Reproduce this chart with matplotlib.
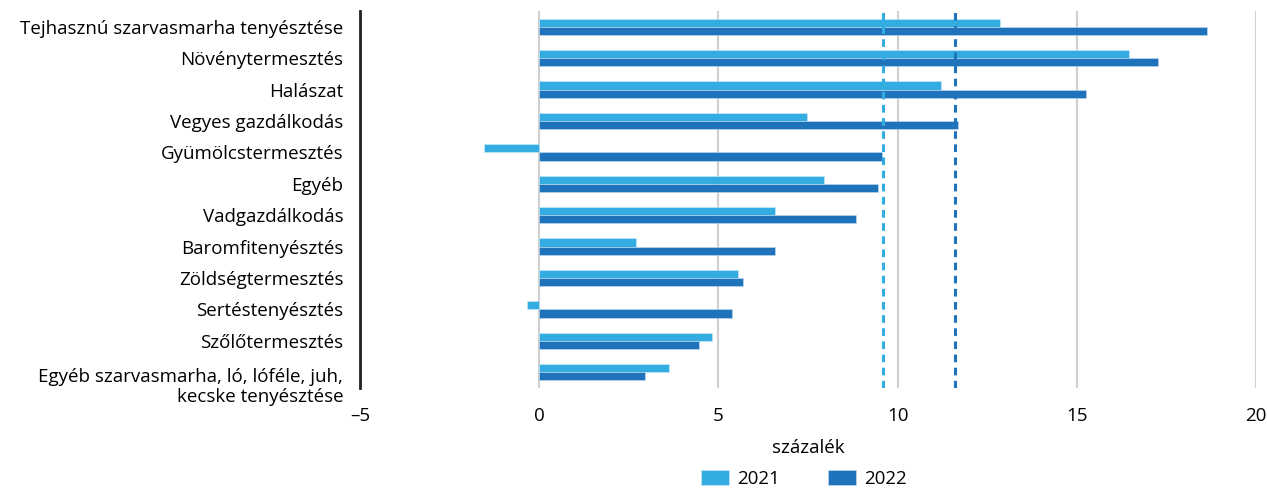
import matplotlib
matplotlib.use("Agg")
import matplotlib.pyplot as plt
import matplotlib.transforms as mtransforms
import numpy as np

plt.rcParams['font.family'] = ['Open Sans', 'DejaVu Sans']

categories = [
    "Tejhasznú szarvasmarha tenyésztése",
    "Növénytermesztés",
    "Halászat",
    "Vegyes gazdálkodás",
    "Gyümölcstermesztés",
    "Egyéb",
    "Vadgazdálkodás",
    "Baromfitenyésztés",
    "Zöldségtermesztés",
    "Sertéstenyésztés",
    "Szőlőtermesztés",
    "Egyéb szarvasmarha, ló, lóféle, juh,\nkecske tenyésztése",
]
values_2021 = [12.86, 16.45, 11.2, 7.48, -1.55, 7.95, 6.58, 2.69, 5.55, -0.33, 4.81, 3.63]
values_2022 = [18.62, 17.27, 15.25, 11.68, 9.56, 9.44, 8.83, 6.58, 5.68, 5.38, 4.46, 2.95]
avg_2021 = 9.59
avg_2022 = 11.61
series_labels = ["2021", "2022"]
xticks = [-5, 0, 5, 10, 15, 20]
xtick_labels = ["–5", "0", "5", "10", "15", "20"]

c21 = "#33ACE1"
c22 = "#1F73BA"
fs = 13.5

fig = plt.figure(figsize=(12.67, 4.93), dpi=100)
ax = fig.add_axes([360/1267, 1 - 388/493, (1256-360)/1267, (388-11)/493])

y = np.arange(len(categories))
h = 0.26
ax.barh(y - h/2, values_2021, height=h, color=c21, edgecolor="#D5ECF8", linewidth=0.4, label=series_labels[0], zorder=3)
ax.barh(y + h/2, values_2022, height=h, color=c22, edgecolor="#C7DDF0", linewidth=0.4, label=series_labels[1], zorder=3)

ax.axvline(avg_2021, color=c21, linestyle=(0, (2.5, 1.8)), linewidth=2.2, zorder=4)
ax.axvline(avg_2022, color=c22, linestyle=(0, (2.5, 1.8)), linewidth=2.2, zorder=4)

ax.set_xlim(-5, 20)
ax.set_ylim(len(categories) - 0.5, -0.5)
ax.set_xticks(xticks)
ax.set_xticklabels(xtick_labels, fontsize=fs)
ax.set_yticks(y)
ax.set_yticklabels(categories, fontsize=fs)
ax.tick_params(axis='both', length=0)
ax.tick_params(axis='y', pad=12)
ax.tick_params(axis='x', pad=14)

for xv in xticks[1:]:
    ax.axvline(xv, color="#D0D0D0", linewidth=1.5, zorder=1)

for s in ["top", "right", "bottom"]:
    ax.spines[s].set_visible(False)
ax.spines["left"].set_linewidth(2)
ax.spines["left"].set_color("#222222")

last = ax.get_yticklabels()[-1]
last.set_transform(last.get_transform() + mtransforms.ScaledTranslation(0, -12/100, fig.dpi_scale_trans))
last.set_linespacing(1.15)

ax.set_xlabel("százalék", fontsize=fs, labelpad=10)

leg = fig.legend(loc="center", bbox_to_anchor=(804/1267, 1 - 479/493), ncol=2, frameon=False,
                 fontsize=fs, handlelength=1.45, handleheight=0.85, columnspacing=2.6, handletextpad=0.45)

fig.savefig("out.png", dpi=100)
